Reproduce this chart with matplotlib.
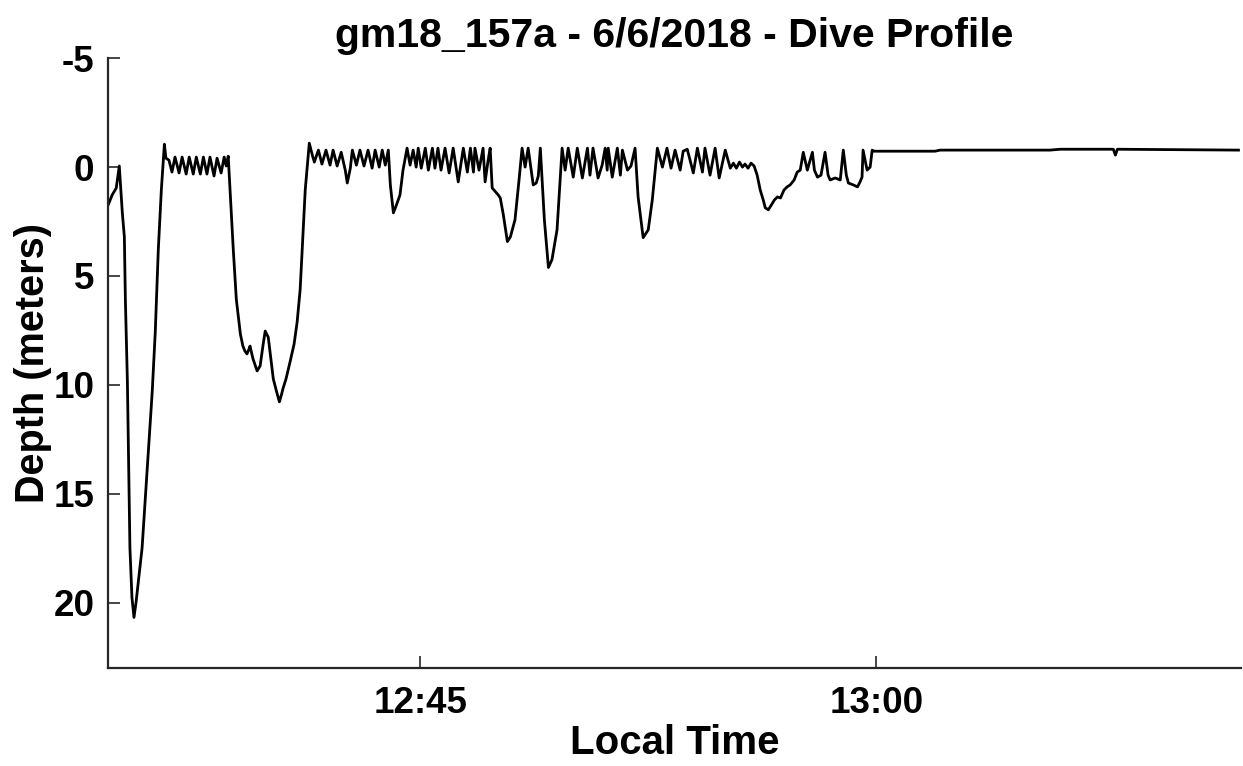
import numpy as np
import pandas as pd
import matplotlib
matplotlib.use("Agg")
import matplotlib.pyplot as plt
import matplotlib.dates as mdates

# -----------------------------
# data: seconds since record start (12:34:44) and depth (m)
# -----------------------------
record_start = "2018-06-06 12:34:44"
record_len = 2235

dive1_t = [0, 8, 16, 22, 28, 32, 34, 38, 43, 47, 51, 55, 67, 87, 93, 99, 105, 111]
dive1_d = [1.74, 1.28, 0.96, -0.05, 2.10, 3.20, 6.07, 9.86, 17.49, 19.77, 20.68, 20.0,
           17.49, 10.32, 7.58, 3.79, 1.05, -1.05]

surf1_t = [114, 120, 126, 132, 140, 146, 154, 160, 168, 174, 182, 188, 195, 201, 209,
           215, 223, 229, 233, 237]
surf1_d = [-0.41, -0.32, 0.23, -0.46, 0.27, -0.46, 0.32, -0.46, 0.32, -0.46, 0.32, -0.46,
           0.32, -0.46, 0.41, -0.41, 0.27, -0.46, -0.05, -0.50]

dive2_t = [247, 253, 257, 261, 266, 270, 274, 278, 280, 286, 294, 300, 306, 310, 316,
           320, 326, 332, 338, 342, 345, 351, 359, 367, 373, 379, 383, 389, 397]
dive2_d = [3.79, 6.07, 6.85, 7.67, 8.22, 8.45, 8.58, 8.36, 8.22, 8.81, 9.36, 9.13, 8.13,
           7.53, 7.81, 8.58, 9.73, 10.27, 10.78, 10.46, 10.18, 9.73, 8.95, 8.13, 7.12,
           5.62, 3.79, 1.05, -1.10]

surf2_t = [403, 407, 415, 422, 430, 438, 444, 452, 460, 468, 472, 478, 482, 490, 497,
           505, 513, 521, 527, 535, 541, 547, 553, 557, 563, 569, 576, 582, 590]
surf2_d = [-0.55, -0.23, -0.78, -0.14, -0.78, -0.09, -0.78, -0.05, -0.68, 0.14, 0.73,
           0.05, -0.78, -0.09, -0.78, -0.05, -0.78, 0.05, -0.78, 0.0, -0.78, -0.09, -0.78,
           0.82, 2.10, 1.74, 1.28, 0.14, -0.87]

surf3_t = [596, 602, 608, 612, 618, 626, 632, 640, 645, 651, 657, 665, 673, 681, 691,
           701, 709, 715, 721, 724, 732, 740, 744, 750, 754, 758, 770, 774, 780, 788,
           794, 803, 811, 817, 823, 829, 835, 839, 845, 849, 853, 861, 869, 876, 886, 896]
surf3_d = [-0.09, -0.78, 0.0, -0.87, 0.05, -0.87, 0.14, -0.87, 0.05, -0.87, 0.14, -0.87,
           0.27, -0.87, 0.68, -0.87, 0.23, -0.87, 0.23, -0.87, 0.14, -0.87, 0.68, -0.32,
           -0.87, 0.96, 1.28, 1.42, 2.19, 3.42, 3.20, 2.42, 0.59, -0.87, 0.0, -0.87,
           0.14, 0.82, 0.73, 0.41, -0.87, 2.42, 4.61, 4.25, 2.88, -0.87]

surf4_t = [902, 908, 918, 926, 936, 946, 951, 957, 967, 975, 981, 985, 987, 995, 1005,
           1011, 1015, 1025, 1032, 1040, 1046, 1056, 1066, 1074, 1084]
surf4_d = [0.14, -0.87, 0.46, -0.87, 0.50, -0.87, 0.37, -0.87, 0.50, -0.09, -0.87, 0.14,
           -0.87, 0.46, -0.87, 0.37, -0.78, 0.14, -0.05, -0.87, 1.37, 3.24, 2.88, 1.51,
           -0.87]

surf5_t = [1094, 1103, 1111, 1119, 1129, 1135, 1143, 1155, 1163, 1173, 1178, 1188, 1198,
           1206, 1218, 1228, 1234, 1240, 1246, 1252, 1257, 1263, 1269, 1275, 1281, 1287,
           1293, 1297, 1303, 1309, 1315, 1321, 1327, 1334, 1340, 1346, 1354, 1360, 1366,
           1372, 1380, 1390, 1394, 1400, 1407, 1415, 1421, 1425, 1435, 1445, 1451, 1457,
           1461, 1471, 1479, 1484, 1488, 1490, 1498, 1504, 1508, 1512]
surf5_d = [0.0, -0.87, 0.05, -0.78, 0.14, -0.73, -0.82, 0.27, -0.87, 0.23, -0.87, 0.37,
           -0.87, 0.50, -0.78, 0.05, -0.18, 0.05, -0.23, 0.0, -0.14, 0.05, -0.18, -0.05,
           0.37, 1.05, 1.51, 1.87, 1.96, 1.74, 1.51, 1.37, 1.42, 1.05, 0.91, 0.82, 0.59,
           0.23, 0.14, -0.68, 0.14, -0.68, 0.14, 0.46, 0.37, -0.68, 0.37, 0.59, 0.50,
           0.59, -0.78, 0.37, 0.73, 0.82, 0.91, 0.68, 0.46, -0.78, 0.14, 0.0, -0.78, -0.73]

flat_t = [1632, 1642, 1859, 1879, 1984, 1988, 1992, 2231]
flat_d = [-0.73, -0.78, -0.78, -0.82, -0.82, -0.55, -0.82, -0.78]

secs = dive1_t + surf1_t + dive2_t + surf2_t + surf3_t + surf4_t + surf5_t + flat_t
depth = dive1_d + surf1_d + dive2_d + surf2_d + surf3_d + surf4_d + surf5_d + flat_d

t0 = pd.Timestamp(record_start)
times = t0 + pd.to_timedelta(secs, unit="s")

# -----------------------------
# plot
# -----------------------------
plt.rcParams["font.family"] = ["Liberation Sans", "DejaVu Sans"]
plt.rcParams["font.weight"] = "bold"
plt.rcParams["axes.unicode_minus"] = False

fig = plt.figure(figsize=(12.43, 7.66), dpi=100)
ax = fig.add_axes([0.087, 0.128, 0.911, 0.796])

ax.plot(times, depth, color="black", linewidth=2.0, solid_joinstyle="round")

ax.set_xlim(t0, t0 + pd.Timedelta(seconds=record_len))
ax.set_ylim(23, -5)
ax.set_yticks([-5, 0, 5, 10, 15, 20])

ax.xaxis.set_major_locator(mdates.MinuteLocator(byminute=[0, 15, 30, 45]))
ax.xaxis.set_major_formatter(mdates.DateFormatter("%H:%M"))

for side in ["top", "right"]:
    ax.spines[side].set_visible(False)
for side in ["left", "bottom"]:
    ax.spines[side].set_linewidth(1.6)
    ax.spines[side].set_color("#262626")

ax.tick_params(direction="in", length=8.5, width=1.2, color="#262626",
               labelsize=26.5, pad=10)
ax.tick_params(axis="x", pad=13)
for lbl in ax.get_xticklabels() + ax.get_yticklabels():
    lbl.set_fontweight("bold")

ax.set_title("gm18_157a - 6/6/2018 - Dive Profile", fontsize=29.5, fontweight="bold", pad=8)
ax.set_xlabel("Local Time", fontsize=29, fontweight="bold", labelpad=2)
ax.set_ylabel("Depth (meters)", fontsize=28.5, fontweight="bold", labelpad=1)

plt.savefig("out.png", dpi=100)
